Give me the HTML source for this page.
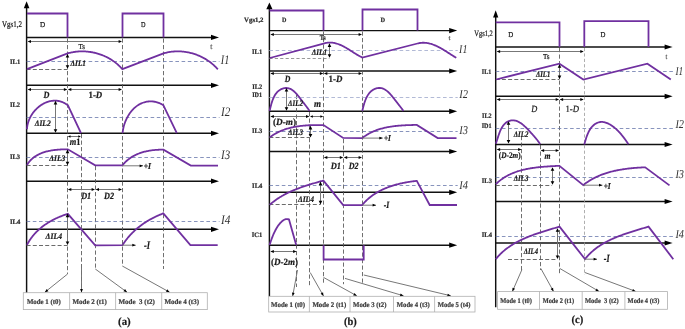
<!DOCTYPE html>
<html><head><meta charset="utf-8"><title>Waveforms</title>
<style>
html,body{margin:0;padding:0;background:#fff;}
body{width:685px;height:329px;overflow:hidden;}
svg{display:block;will-change:transform;}
text{text-rendering:geometricPrecision;font-family:"Liberation Serif",serif;fill:#1a1a1a;white-space:pre;stroke:#1a1a1a;stroke-width:0.22;}
.t{font-weight:normal;}
.tg{font-weight:normal;fill:#555;stroke:#555;}
.b{font-weight:bold;}
.md{font-weight:bold;fill:#3c3c3c;stroke:#3c3c3c;}
.lb{font-weight:bold;fill:#2a2a2a;stroke:#2a2a2a;}
.bi{font-weight:bold;font-style:italic;}
.li{font-style:italic;}
.lig{font-style:italic;fill:#333;stroke:none;}
.ax{stroke:#111;stroke-width:1.45;fill:none;}
.pw{stroke:#7030a0;stroke-width:1.8;fill:none;stroke-linejoin:miter;}
.vdl{stroke:#9a9a9a;stroke-width:0.8;stroke-dasharray:3.2 2.2;fill:none;}
.vd{stroke:#555555;stroke-width:0.85;stroke-dasharray:4.2 2.3;fill:none;}
.bd{stroke:#6a78ac;stroke-width:0.8;stroke-dasharray:3.6 2.6;fill:none;}
.bdb{stroke:#b2bad6;stroke-width:1.15;stroke-dasharray:3.6 2.6;fill:none;}
.gd{stroke:#5a5a5a;stroke-width:0.9;stroke-dasharray:4 2.2;fill:none;}
.gdb{stroke:#8c8c8c;stroke-width:0.9;stroke-dasharray:3.2 2.2;fill:none;}
.th{stroke:#707070;stroke-width:0.95;fill:none;}
.bx{stroke:#b0b0b0;stroke-width:0.8;fill:none;}
</style></head>
<body>
<svg width="685" height="329" viewBox="0 0 685 329">
<line x1="26.6" y1="7" x2="26.6" y2="292.7" class="ax"/>
<polygon points="26.60,1.20 29.40,8.20 23.80,8.20" fill="#000"/>
<line x1="26.6" y1="37.4" x2="214" y2="37.4" class="ax"/>
<polygon points="219.00,37.40 211.00,40.00 211.00,34.80" fill="#000"/>
<line x1="26.6" y1="85.3" x2="214" y2="85.3" class="ax"/>
<polygon points="219.00,85.30 211.00,87.90 211.00,82.70" fill="#000"/>
<line x1="26.6" y1="133.3" x2="214" y2="133.3" class="ax"/>
<polygon points="219.00,133.30 211.00,135.90 211.00,130.70" fill="#000"/>
<line x1="26.6" y1="181.2" x2="214" y2="181.2" class="ax"/>
<polygon points="219.00,181.20 211.00,183.80 211.00,178.60" fill="#000"/>
<line x1="26.6" y1="229.3" x2="214" y2="229.3" class="ax"/>
<polygon points="219.00,229.30 211.00,231.90 211.00,226.70" fill="#000"/>
<line x1="67.5" y1="38.5" x2="67.5" y2="274" class="vd"/>
<line x1="122.5" y1="38.5" x2="122.5" y2="266" class="vd"/>
<line x1="163.5" y1="38.5" x2="163.5" y2="269" class="vd"/>
<line x1="81.5" y1="134" x2="81.5" y2="291" class="vd"/>
<line x1="95.5" y1="166" x2="95.5" y2="269" class="vd"/>
<path d="M27,13.5 H67.5 V37.5" class="pw"/>
<path d="M122.5,37.5 V13.5 H163.5 V37.5" class="pw"/>
<text x="2" y="26.9" font-size="8.6" class="t" textLength="19.9" lengthAdjust="spacingAndGlyphs">Vgs1,2</text>
<text x="40.1" y="26.8" font-size="7.5" class="t" textLength="5.2" lengthAdjust="spacingAndGlyphs">D</text>
<text x="140.9" y="26.6" font-size="7.5" class="t" textLength="4.5" lengthAdjust="spacingAndGlyphs">D</text>
<line x1="28.6" y1="41.5" x2="121.0" y2="41.5" class="th"/>
<polygon points="27.60,41.50 31.00,40.00 31.00,43.00" fill="#000"/>
<polygon points="122.00,41.50 118.60,43.00 118.60,40.00" fill="#000"/>
<text x="78.5" y="49.2" font-size="7.5" class="t" textLength="6.4" lengthAdjust="spacingAndGlyphs">Ts</text>
<text x="210.2" y="48.6" font-size="8.2" class="tg" textLength="2.1" lengthAdjust="spacingAndGlyphs">t</text>
<line x1="26.6" y1="61.5" x2="219.5" y2="61.5" class="bd"/>
<line x1="26.6" y1="69.5" x2="67.6" y2="69.5" class="gd"/>
<path d="M27.00,69.20 L67.60,53.40 L68.39,53.18 L69.19,52.97 L69.99,52.77 L70.79,52.59 L71.60,52.42 L72.40,52.26 L73.21,52.12 L74.02,51.99 L74.84,51.87 L75.65,51.76 L76.47,51.67 L77.28,51.59 L78.10,51.52 L78.92,51.46 L79.74,51.42 L80.56,51.39 L81.38,51.37 L82.20,51.37 L83.02,51.37 L83.85,51.39 L84.67,51.43 L85.49,51.47 L86.31,51.53 L87.12,51.59 L87.94,51.67 L88.76,51.77 L89.57,51.87 L90.38,51.99 L91.19,52.12 L92.00,52.26 L92.81,52.41 L93.61,52.58 L94.42,52.75 L95.21,52.94 L96.01,53.14 L96.80,53.36 L97.59,53.58 L98.38,53.81 L99.16,54.06 L99.94,54.32 L100.72,54.59 L101.49,54.87 L102.25,55.17 L103.01,55.47 L103.77,55.79 L104.52,56.11 L105.27,56.45 L106.01,56.80 L106.75,57.16 L107.48,57.54 L108.20,57.92 L108.92,58.31 L109.63,58.72 L110.34,59.14 L111.04,59.56 L111.73,60.00 L112.42,60.45 L113.10,60.91 L113.77,61.38 L114.43,61.87 L115.09,62.36 L115.74,62.86 L116.38,63.38 L117.01,63.90 L117.63,64.44 L118.25,64.98 L118.85,65.54 L119.45,66.11 L120.04,66.69 L120.62,67.27 L121.19,67.87 L121.75,68.48 L122.30,69.10 L163.50,53.40 L164.29,53.17 L165.09,52.96 L165.89,52.76 L166.69,52.57 L167.49,52.40 L168.30,52.24 L169.11,52.09 L169.91,51.96 L170.72,51.84 L171.54,51.73 L172.35,51.64 L173.16,51.56 L173.98,51.49 L174.79,51.44 L175.60,51.40 L176.42,51.37 L177.24,51.35 L178.05,51.35 L178.87,51.36 L179.68,51.39 L180.49,51.42 L181.31,51.47 L182.12,51.53 L182.93,51.60 L183.74,51.69 L184.55,51.79 L185.36,51.90 L186.16,52.02 L186.97,52.16 L187.77,52.30 L188.56,52.46 L189.36,52.63 L190.15,52.82 L190.95,53.01 L191.73,53.22 L192.52,53.44 L193.30,53.67 L194.08,53.91 L194.85,54.16 L195.62,54.43 L196.39,54.70 L197.15,54.99 L197.91,55.29 L198.66,55.60 L199.41,55.92 L200.16,56.26 L200.89,56.60 L201.63,56.96 L202.36,57.33 L203.08,57.70 L203.80,58.09 L204.51,58.49 L205.21,58.90 L205.91,59.32 L206.61,59.76 L207.29,60.20 L207.97,60.65 L208.65,61.12 L209.31,61.59 L209.97,62.07 L210.62,62.57 L211.27,63.07 L211.90,63.59 L212.53,64.12 L213.15,64.65 L213.76,65.20 L214.36,65.75 L214.96,66.32 L215.55,66.90 L216.12,67.48 L216.69,68.08 L217.25,68.68 L217.80,69.30 " class="pw"/>
<line x1="67.5" y1="54.9" x2="67.5" y2="67.8" class="th"/>
<polygon points="67.50,53.90 69.30,57.50 65.70,57.50" fill="#000"/>
<polygon points="67.50,68.80 65.70,65.20 69.30,65.20" fill="#000"/>
<text x="10" y="63.8" font-size="6.8" class="lb" textLength="10.2" lengthAdjust="spacingAndGlyphs">IL1</text>
<text x="70.6" y="66.2" font-size="8.5" class="bi" textLength="15.3" lengthAdjust="spacingAndGlyphs">&#916;IL1</text>
<text x="220.8" y="63.6" font-size="13" class="lig" textLength="8.6" lengthAdjust="spacingAndGlyphs">I1</text>
<line x1="28.6" y1="89.5" x2="66.3" y2="89.5" class="th"/>
<polygon points="27.60,89.50 31.00,88.00 31.00,91.00" fill="#000"/>
<polygon points="67.30,89.50 63.90,91.00 63.90,88.00" fill="#000"/>
<line x1="68.89999999999999" y1="89.5" x2="121.0" y2="89.5" class="th"/>
<polygon points="67.90,89.50 71.30,88.00 71.30,91.00" fill="#000"/>
<polygon points="122.00,89.50 118.60,91.00 118.60,88.00" fill="#000"/>
<text x="43.4" y="98.1" font-size="9.5" class="bi" textLength="5.9" lengthAdjust="spacingAndGlyphs">D</text>
<text x="88.5" y="98.1" font-size="9.5" class="b" textLength="13.7" lengthAdjust="spacingAndGlyphs">1-<tspan font-style='italic'>D</tspan></text>
<line x1="26.6" y1="117.5" x2="219.5" y2="117.5" class="bd"/>
<path d="M27.00,129.20 L27.04,128.38 L27.11,127.56 L27.21,126.75 L27.33,125.94 L27.47,125.13 L27.65,124.32 L27.84,123.52 L28.06,122.73 L28.30,121.94 L28.57,121.15 L28.85,120.38 L29.16,119.61 L29.49,118.84 L29.84,118.09 L30.22,117.34 L30.61,116.61 L31.02,115.88 L31.45,115.16 L31.90,114.46 L32.36,113.76 L32.85,113.08 L33.35,112.41 L33.86,111.75 L34.40,111.10 L34.95,110.47 L35.51,109.86 L36.09,109.26 L36.68,108.67 L37.28,108.10 L37.90,107.55 L38.53,107.01 L39.18,106.50 L39.83,106.00 L40.50,105.52 L41.18,105.05 L41.86,104.61 L42.56,104.19 L43.27,103.79 L43.98,103.41 L44.70,103.06 L45.43,102.72 L46.17,102.41 L46.92,102.12 L47.67,101.86 L48.42,101.62 L49.19,101.40 L49.95,101.22 L50.72,101.05 L51.50,100.92 L52.28,100.81 L53.06,100.73 L53.84,100.68 L54.63,100.66 L55.41,100.66 L56.20,100.70 L56.99,100.77 L57.78,100.86 L58.57,100.99 L59.35,101.15 L60.14,101.35 L60.92,101.58 L61.70,101.84 L62.48,102.13 L63.25,102.46 L64.02,102.83 L64.79,103.23 L65.55,103.67 L66.31,104.14 L67.06,104.65 L67.80,105.20 L81.00,133.10 " class="pw"/>
<path d="M122.60,133.00 L122.68,132.21 L122.77,131.42 L122.88,130.63 L123.01,129.83 L123.15,129.04 L123.31,128.24 L123.49,127.44 L123.69,126.64 L123.90,125.84 L124.13,125.05 L124.38,124.26 L124.64,123.47 L124.92,122.68 L125.21,121.90 L125.52,121.12 L125.85,120.35 L126.19,119.58 L126.54,118.83 L126.91,118.08 L127.30,117.33 L127.70,116.60 L128.12,115.87 L128.55,115.16 L129.00,114.46 L129.46,113.76 L129.93,113.09 L130.42,112.42 L130.92,111.76 L131.44,111.12 L131.97,110.50 L132.51,109.89 L133.07,109.30 L133.64,108.72 L134.22,108.16 L134.82,107.62 L135.42,107.09 L136.05,106.59 L136.68,106.10 L137.33,105.64 L137.98,105.20 L138.65,104.78 L139.34,104.38 L140.03,104.00 L140.74,103.65 L141.45,103.32 L142.18,103.02 L142.91,102.74 L143.66,102.49 L144.41,102.26 L145.18,102.06 L145.94,101.88 L146.72,101.73 L147.50,101.61 L148.29,101.51 L149.08,101.44 L149.87,101.40 L150.67,101.38 L151.47,101.40 L152.27,101.44 L153.07,101.51 L153.87,101.61 L154.68,101.74 L155.48,101.90 L156.28,102.09 L157.08,102.31 L157.87,102.56 L158.66,102.84 L159.45,103.16 L160.23,103.50 L161.01,103.88 L161.78,104.29 L162.54,104.73 L163.30,105.20 L176.80,133.10 " class="pw"/>
<line x1="55.5" y1="101.8" x2="55.5" y2="131.8" class="th"/>
<polygon points="55.50,100.80 57.30,104.40 53.70,104.40" fill="#000"/>
<polygon points="55.50,132.80 53.70,129.20 57.30,129.20" fill="#000"/>
<text x="10" y="106.7" font-size="6.8" class="lb" textLength="10.1" lengthAdjust="spacingAndGlyphs">IL2</text>
<text x="34.7" y="126.3" font-size="8.5" class="bi" textLength="16.0" lengthAdjust="spacingAndGlyphs">&#916;IL2</text>
<text x="221" y="116.0" font-size="13" class="lig" textLength="9.3" lengthAdjust="spacingAndGlyphs">I2</text>
<line x1="68.89999999999999" y1="136.5" x2="79.9" y2="136.5" class="th"/>
<polygon points="67.90,136.50 70.50,135.30 70.50,137.70" fill="#000"/>
<polygon points="80.90,136.50 78.30,137.70 78.30,135.30" fill="#000"/>
<text x="69.8" y="145.4" font-size="10" class="bi" textLength="10.7" lengthAdjust="spacingAndGlyphs">m<tspan font-style='normal'>1</tspan></text>
<line x1="26.6" y1="157.5" x2="219.5" y2="157.5" class="bd"/>
<line x1="26.6" y1="165.5" x2="67.6" y2="165.5" class="gd"/>
<path d="M27.00,164.90 L27.46,164.17 L27.94,163.46 L28.43,162.77 L28.94,162.11 L29.47,161.47 L30.02,160.84 L30.57,160.25 L31.15,159.67 L31.74,159.11 L32.34,158.57 L32.95,158.05 L33.58,157.55 L34.22,157.07 L34.87,156.61 L35.54,156.17 L36.22,155.75 L36.90,155.34 L37.60,154.95 L38.31,154.58 L39.03,154.22 L39.76,153.88 L40.49,153.55 L41.24,153.25 L41.99,152.95 L42.75,152.67 L43.52,152.41 L44.29,152.16 L45.07,151.92 L45.86,151.69 L46.65,151.48 L47.45,151.28 L48.25,151.10 L49.06,150.92 L49.87,150.76 L50.68,150.60 L51.50,150.46 L52.32,150.33 L53.14,150.21 L53.96,150.10 L54.79,149.99 L55.61,149.90 L56.44,149.81 L57.26,149.74 L58.09,149.67 L58.91,149.60 L59.73,149.55 L60.56,149.50 L61.37,149.46 L62.19,149.42 L63.00,149.39 L63.81,149.36 L64.62,149.34 L65.42,149.33 L66.22,149.31 L67.01,149.31 L67.80,149.30 L95.20,165.40 L122.40,165.40 L122.94,164.72 L123.49,164.06 L124.06,163.42 L124.64,162.79 L125.23,162.19 L125.83,161.60 L126.44,161.03 L127.06,160.48 L127.69,159.94 L128.33,159.42 L128.99,158.91 L129.65,158.43 L130.32,157.96 L131.00,157.50 L131.69,157.06 L132.39,156.64 L133.10,156.23 L133.81,155.83 L134.53,155.45 L135.26,155.09 L136.00,154.74 L136.74,154.40 L137.49,154.07 L138.25,153.76 L139.01,153.47 L139.78,153.18 L140.56,152.91 L141.34,152.65 L142.13,152.41 L142.92,152.18 L143.71,151.95 L144.51,151.74 L145.32,151.54 L146.12,151.36 L146.93,151.18 L147.75,151.01 L148.57,150.86 L149.39,150.71 L150.21,150.58 L151.03,150.45 L151.86,150.34 L152.69,150.23 L153.52,150.14 L154.35,150.05 L155.18,149.97 L156.02,149.90 L156.85,149.83 L157.68,149.78 L158.52,149.73 L159.35,149.69 L160.18,149.66 L161.01,149.64 L161.84,149.62 L162.67,149.61 L163.50,149.60 L190.80,165.60 L218.00,165.60 " class="pw"/>
<line x1="67.5" y1="150.6" x2="67.5" y2="164.3" class="th"/>
<polygon points="67.50,149.60 69.30,153.20 65.70,153.20" fill="#000"/>
<polygon points="67.50,165.30 65.70,161.70 69.30,161.70" fill="#000"/>
<text x="10" y="158.9" font-size="6.8" class="lb" textLength="10.1" lengthAdjust="spacingAndGlyphs">IL3</text>
<text x="49.3" y="161.3" font-size="8.5" class="bi" textLength="16.0" lengthAdjust="spacingAndGlyphs">&#916;IL3</text>
<text x="221" y="158.8" font-size="13" class="lig" textLength="9.1" lengthAdjust="spacingAndGlyphs">I3</text>
<line x1="122.3" y1="165.8" x2="143" y2="165.8" class="th"/>
<polygon points="143.00,165.80 139.60,167.20 139.60,164.40" fill="#000"/>
<text x="143.7" y="169.4" font-size="9" class="bi" textLength="7.3" lengthAdjust="spacingAndGlyphs">+I</text>
<line x1="68.89999999999999" y1="189.5" x2="94.0" y2="189.5" class="th"/>
<polygon points="67.90,189.50 71.30,188.00 71.30,191.00" fill="#000"/>
<polygon points="95.00,189.50 91.60,191.00 91.60,188.00" fill="#000"/>
<line x1="96.6" y1="189.5" x2="121.0" y2="189.5" class="th"/>
<polygon points="95.60,189.50 99.00,188.00 99.00,191.00" fill="#000"/>
<polygon points="122.00,189.50 118.60,191.00 118.60,188.00" fill="#000"/>
<text x="81.2" y="198.6" font-size="9.5" class="bi" textLength="10.0" lengthAdjust="spacingAndGlyphs">D1</text>
<text x="104" y="198.6" font-size="9.5" class="bi" textLength="10.0" lengthAdjust="spacingAndGlyphs">D2</text>
<line x1="26.6" y1="221.5" x2="219.5" y2="221.5" class="bd"/>
<line x1="26.6" y1="245.5" x2="67.6" y2="245.5" class="gd"/>
<path d="M27.00,244.90 L27.39,244.16 L27.79,243.42 L28.20,242.69 L28.62,241.98 L29.06,241.27 L29.50,240.57 L29.95,239.87 L30.42,239.19 L30.89,238.52 L31.37,237.85 L31.87,237.19 L32.37,236.54 L32.88,235.90 L33.41,235.27 L33.94,234.65 L34.48,234.03 L35.02,233.43 L35.58,232.83 L36.15,232.24 L36.72,231.66 L37.30,231.09 L37.89,230.52 L38.49,229.96 L39.10,229.42 L39.71,228.88 L40.33,228.34 L40.96,227.82 L41.59,227.30 L42.23,226.80 L42.88,226.30 L43.54,225.81 L44.20,225.32 L44.87,224.85 L45.54,224.38 L46.22,223.92 L46.90,223.47 L47.60,223.02 L48.29,222.59 L48.99,222.16 L49.70,221.74 L50.41,221.32 L51.13,220.92 L51.85,220.52 L52.58,220.13 L53.31,219.75 L54.04,219.37 L54.78,219.01 L55.52,218.65 L56.27,218.30 L57.02,217.95 L57.77,217.61 L58.53,217.28 L59.29,216.96 L60.05,216.65 L60.81,216.34 L61.58,216.04 L62.35,215.75 L63.12,215.46 L63.90,215.18 L64.68,214.91 L65.45,214.65 L66.24,214.39 L67.02,214.14 L67.80,213.90 L95.20,245.30 L122.50,245.20 L122.94,244.49 L123.40,243.79 L123.86,243.10 L124.32,242.41 L124.80,241.74 L125.28,241.06 L125.77,240.40 L126.27,239.74 L126.78,239.09 L127.29,238.44 L127.81,237.80 L128.34,237.17 L128.87,236.55 L129.42,235.93 L129.96,235.32 L130.52,234.71 L131.08,234.12 L131.65,233.52 L132.22,232.94 L132.81,232.36 L133.39,231.79 L133.99,231.23 L134.59,230.67 L135.19,230.12 L135.80,229.57 L136.42,229.03 L137.05,228.50 L137.67,227.98 L138.31,227.46 L138.95,226.95 L139.59,226.44 L140.25,225.95 L140.90,225.45 L141.56,224.97 L142.23,224.49 L142.90,224.02 L143.58,223.55 L144.26,223.09 L144.94,222.64 L145.63,222.19 L146.32,221.75 L147.02,221.32 L147.73,220.89 L148.43,220.47 L149.14,220.06 L149.86,219.65 L150.58,219.25 L151.30,218.86 L152.03,218.47 L152.76,218.09 L153.49,217.71 L154.23,217.34 L154.97,216.98 L155.71,216.62 L156.46,216.27 L157.20,215.93 L157.96,215.59 L158.71,215.26 L159.47,214.93 L160.23,214.61 L161.00,214.30 L161.76,213.99 L162.53,213.69 L163.30,213.40 L190.40,245.20 L217.70,245.20 " class="pw"/>
<line x1="67.5" y1="214.6" x2="67.5" y2="244" class="th"/>
<polygon points="67.50,213.60 69.30,217.20 65.70,217.20" fill="#000"/>
<polygon points="67.50,245.00 65.70,241.40 69.30,241.40" fill="#000"/>
<text x="10" y="223.8" font-size="6.8" class="lb" textLength="10.3" lengthAdjust="spacingAndGlyphs">IL4</text>
<text x="45.6" y="239.2" font-size="8.5" class="bi" textLength="16.4" lengthAdjust="spacingAndGlyphs">&#916;IL4</text>
<text x="221" y="224.3" font-size="13" class="lig" textLength="9.4" lengthAdjust="spacingAndGlyphs">I4</text>
<line x1="122.3" y1="245.2" x2="135.7" y2="245.2" class="th"/>
<polygon points="135.70,245.20 132.30,246.60 132.30,243.80" fill="#000"/>
<text x="144" y="248.8" font-size="11.5" class="bi" textLength="6.0" lengthAdjust="spacingAndGlyphs">-I</text>
<line x1="67.6" y1="274" x2="44.9" y2="292.2" class="th"/>
<polygon points="44.90,292.20 46.68,288.98 48.43,291.17" fill="#000"/>
<line x1="81.5" y1="268" x2="81.5" y2="292.4" class="th"/>
<polygon points="81.50,292.40 80.10,289.00 82.90,289.00" fill="#000"/>
<line x1="95.3" y1="269" x2="127" y2="292.2" class="th"/>
<polygon points="127.00,292.20 123.43,291.32 125.08,289.06" fill="#000"/>
<line x1="122.3" y1="266" x2="169.6" y2="292.2" class="th"/>
<polygon points="169.60,292.20 165.95,291.78 167.30,289.33" fill="#000"/>
<rect x="23.3" y="292.7" width="184.0" height="16.900000000000034" class="bx"/>
<line x1="69.6" y1="292.7" x2="69.6" y2="309.6" class="bx"/>
<line x1="115.6" y1="292.7" x2="115.6" y2="309.6" class="bx"/>
<line x1="161.7" y1="292.7" x2="161.7" y2="309.6" class="bx"/>
<text x="26.9" y="303.6" font-size="7.2" class="md" textLength="33.8" lengthAdjust="spacingAndGlyphs">Mode 1 (t0)</text>
<text x="72.5" y="303.6" font-size="7.2" class="md" textLength="34.3" lengthAdjust="spacingAndGlyphs">Mode 2 (t1)</text>
<text x="118.5" y="303.6" font-size="7.2" class="md" textLength="36.3" lengthAdjust="spacingAndGlyphs">Mode  3 (t2)</text>
<text x="164.4" y="303.6" font-size="7.2" class="md" textLength="34.6" lengthAdjust="spacingAndGlyphs">Mode 4 (t3)</text>
<text x="118" y="325.2" font-size="11" class="b" textLength="12.7" lengthAdjust="spacingAndGlyphs">(a)</text>
<line x1="269.4" y1="8" x2="269.4" y2="296.3" class="ax"/>
<polygon points="269.40,2.60 272.50,9.20 266.30,9.20" fill="#000"/>
<line x1="269.4" y1="30.6" x2="452.2" y2="30.6" class="ax"/>
<polygon points="457.20,30.60 449.20,33.20 449.20,28.00" fill="#000"/>
<line x1="269.4" y1="71.0" x2="452.2" y2="71.0" class="ax"/>
<polygon points="457.20,71.00 449.20,73.60 449.20,68.40" fill="#000"/>
<line x1="269.4" y1="111.3" x2="452.2" y2="111.3" class="ax"/>
<polygon points="457.20,111.30 449.20,113.90 449.20,108.70" fill="#000"/>
<line x1="269.4" y1="151.5" x2="452.2" y2="151.5" class="ax"/>
<polygon points="457.20,151.50 449.20,154.10 449.20,148.90" fill="#000"/>
<line x1="269.4" y1="192.3" x2="452.2" y2="192.3" class="ax"/>
<polygon points="457.20,192.30 449.20,194.90 449.20,189.70" fill="#000"/>
<line x1="269.4" y1="245.2" x2="452.2" y2="245.2" class="ax"/>
<polygon points="457.20,245.20 449.20,247.80 449.20,242.60" fill="#000"/>
<line x1="323.5" y1="31.5" x2="323.5" y2="283.5" class="vd"/>
<line x1="362.5" y1="31.5" x2="362.5" y2="283" class="vd"/>
<line x1="296.5" y1="95" x2="296.5" y2="287" class="vd"/>
<line x1="309.5" y1="112" x2="309.5" y2="285.7" class="vd"/>
<line x1="343.5" y1="139" x2="343.5" y2="284.2" class="vd"/>
<path d="M269.5,10.5 H323.5 V30.5" class="pw"/>
<path d="M362.5,30.5 V9.5 H417.5 V30.5" class="pw"/>
<text x="244.1" y="22.0" font-size="6.6" class="lb" textLength="19.4" lengthAdjust="spacingAndGlyphs">Vgs1,2</text>
<text x="281.9" y="21.9" font-size="6.6" class="lb" textLength="4.4" lengthAdjust="spacingAndGlyphs">D</text>
<text x="380.4" y="22.2" font-size="6.6" class="lb" textLength="4.6" lengthAdjust="spacingAndGlyphs">D</text>
<line x1="271.4" y1="34.5" x2="361.0" y2="34.5" class="th"/>
<polygon points="270.40,34.50 273.80,33.00 273.80,36.00" fill="#000"/>
<polygon points="362.00,34.50 358.60,36.00 358.60,33.00" fill="#000"/>
<text x="319.8" y="40.0" font-size="7.2" class="lb" textLength="6.0" lengthAdjust="spacingAndGlyphs">Ts</text>
<text x="448.5" y="40.0" font-size="6.8" class="tg" textLength="2.0" lengthAdjust="spacingAndGlyphs">t</text>
<line x1="269.4" y1="50.5" x2="457.7" y2="50.5" class="bdb"/>
<line x1="269.4" y1="58.5" x2="329.4" y2="58.5" class="gdb"/>
<path d="M269.80,58.00 L323.50,43.60 L324.36,43.34 L325.20,43.13 L326.04,42.95 L326.88,42.80 L327.71,42.70 L328.53,42.62 L329.34,42.58 L330.15,42.57 L330.96,42.59 L331.75,42.64 L332.54,42.72 L333.33,42.83 L334.11,42.96 L334.89,43.12 L335.66,43.31 L336.43,43.51 L337.19,43.74 L337.94,43.99 L338.70,44.26 L339.45,44.55 L340.19,44.86 L340.93,45.19 L341.67,45.53 L342.41,45.88 L343.14,46.25 L343.87,46.63 L344.59,47.03 L345.31,47.43 L346.03,47.84 L346.75,48.26 L347.47,48.69 L348.18,49.13 L348.89,49.57 L349.60,50.01 L350.31,50.46 L351.02,50.91 L351.73,51.36 L352.43,51.81 L353.14,52.26 L353.84,52.71 L354.54,53.15 L355.25,53.59 L355.95,54.02 L356.65,54.45 L357.36,54.87 L358.06,55.28 L358.76,55.68 L359.47,56.07 L360.18,56.45 L360.88,56.81 L361.59,57.16 L362.30,57.50 L417.50,43.50 L418.34,43.30 L419.17,43.13 L420.00,42.99 L420.82,42.89 L421.64,42.82 L422.46,42.77 L423.27,42.75 L424.08,42.77 L424.88,42.80 L425.68,42.87 L426.48,42.96 L427.27,43.07 L428.06,43.21 L428.84,43.37 L429.63,43.55 L430.40,43.75 L431.18,43.98 L431.95,44.22 L432.72,44.48 L433.48,44.76 L434.24,45.05 L435.00,45.36 L435.75,45.69 L436.51,46.03 L437.25,46.38 L438.00,46.74 L438.74,47.12 L439.47,47.51 L440.21,47.91 L440.94,48.31 L441.67,48.73 L442.39,49.15 L443.12,49.58 L443.83,50.01 L444.55,50.45 L445.26,50.89 L445.97,51.34 L446.68,51.78 L447.39,52.23 L448.09,52.68 L448.79,53.13 L449.48,53.58 L450.18,54.02 L450.87,54.47 L451.55,54.91 L452.24,55.34 L452.92,55.77 L453.60,56.19 L454.28,56.61 L454.96,57.01 L455.63,57.41 L456.30,57.80 " class="pw"/>
<line x1="329.5" y1="44.3" x2="329.5" y2="56.8" class="th"/>
<polygon points="329.50,43.30 331.30,46.90 327.70,46.90" fill="#000"/>
<polygon points="329.50,57.80 327.70,54.20 331.30,54.20" fill="#000"/>
<text x="252.1" y="53.7" font-size="6.8" class="lb" textLength="10.0" lengthAdjust="spacingAndGlyphs">IL1</text>
<text x="311.7" y="55.0" font-size="8.5" class="bi" textLength="15.3" lengthAdjust="spacingAndGlyphs">&#916;IL1</text>
<text x="459.1" y="52.9" font-size="12" class="lig" textLength="8.3" lengthAdjust="spacingAndGlyphs">I1</text>
<line x1="271.4" y1="73.5" x2="322.3" y2="73.5" class="th"/>
<polygon points="270.40,73.50 273.80,72.00 273.80,75.00" fill="#000"/>
<polygon points="323.30,73.50 319.90,75.00 319.90,72.00" fill="#000"/>
<line x1="324.90000000000003" y1="73.5" x2="361.0" y2="73.5" class="th"/>
<polygon points="323.90,73.50 327.30,72.00 327.30,75.00" fill="#000"/>
<polygon points="362.00,73.50 358.60,75.00 358.60,72.00" fill="#000"/>
<text x="284.8" y="82.2" font-size="9.5" class="bi" textLength="5.6" lengthAdjust="spacingAndGlyphs">D</text>
<text x="328.5" y="82.2" font-size="9.5" class="b" textLength="13.8" lengthAdjust="spacingAndGlyphs">1-<tspan font-style='italic'>D</tspan></text>
<line x1="269.4" y1="97.5" x2="457.7" y2="97.5" class="bdb"/>
<path d="M269.60,110.90 L269.77,110.23 L269.94,109.54 L270.11,108.82 L270.29,108.08 L270.48,107.32 L270.68,106.54 L270.88,105.75 L271.10,104.94 L271.32,104.13 L271.56,103.30 L271.81,102.48 L272.08,101.65 L272.36,100.83 L272.66,100.00 L272.97,99.19 L273.31,98.38 L273.66,97.59 L274.04,96.81 L274.44,96.05 L274.86,95.30 L275.30,94.58 L275.77,93.89 L276.27,93.22 L276.79,92.58 L277.35,91.98 L277.93,91.41 L278.54,90.88 L279.18,90.39 L279.85,89.94 L280.54,89.53 L281.24,89.17 L281.97,88.85 L282.70,88.58 L283.45,88.36 L284.20,88.19 L284.96,88.07 L285.72,88.00 L286.48,87.99 L287.23,88.03 L287.98,88.13 L288.72,88.29 L289.44,88.52 L290.15,88.79 L290.85,89.13 L291.53,89.51 L292.20,89.94 L292.86,90.41 L293.51,90.92 L294.14,91.47 L294.76,92.05 L295.37,92.65 L295.97,93.28 L296.56,93.93 L297.14,94.60 L297.70,95.27 L298.26,95.96 L298.81,96.65 L299.34,97.34 L299.87,98.03 L300.39,98.71 L300.90,99.38 L301.40,100.04 L301.89,100.68 L302.37,101.31 L302.85,101.93 L303.33,102.54 L303.80,103.15 L304.27,103.76 L304.73,104.36 L305.20,104.96 L305.67,105.57 L306.14,106.19 L306.62,106.82 L307.09,107.46 L307.58,108.11 L308.07,108.77 L308.57,109.46 L309.08,110.17 L309.60,110.90 " class="pw"/>
<path d="M362.30,110.90 L362.46,110.23 L362.62,109.54 L362.80,108.82 L362.98,108.08 L363.17,107.32 L363.37,106.54 L363.58,105.75 L363.80,104.95 L364.03,104.14 L364.28,103.32 L364.54,102.49 L364.82,101.67 L365.12,100.85 L365.43,100.03 L365.76,99.22 L366.10,98.41 L366.47,97.62 L366.86,96.85 L367.27,96.09 L367.70,95.35 L368.16,94.63 L368.64,93.94 L369.14,93.27 L369.67,92.64 L370.23,92.04 L370.82,91.47 L371.43,90.94 L372.08,90.45 L372.74,90.00 L373.43,89.60 L374.13,89.23 L374.86,88.91 L375.59,88.64 L376.34,88.41 L377.09,88.23 L377.85,88.10 L378.61,88.02 L379.37,87.99 L380.13,88.02 L380.88,88.10 L381.63,88.23 L382.36,88.42 L383.08,88.67 L383.79,88.96 L384.49,89.31 L385.17,89.70 L385.85,90.14 L386.51,90.62 L387.16,91.13 L387.80,91.67 L388.42,92.24 L389.04,92.84 L389.64,93.46 L390.24,94.10 L390.82,94.75 L391.40,95.42 L391.96,96.09 L392.52,96.77 L393.06,97.45 L393.60,98.13 L394.12,98.80 L394.64,99.47 L395.15,100.12 L395.65,100.76 L396.14,101.39 L396.63,102.02 L397.11,102.63 L397.59,103.25 L398.07,103.86 L398.54,104.47 L399.02,105.08 L399.50,105.69 L399.98,106.31 L400.46,106.93 L400.95,107.56 L401.44,108.20 L401.94,108.85 L402.45,109.52 L402.97,110.20 L403.50,110.90 " class="pw"/>
<line x1="286.5" y1="89" x2="286.5" y2="109.8" class="th"/>
<polygon points="286.50,88.00 288.30,91.60 284.70,91.60" fill="#000"/>
<polygon points="286.50,110.80 284.70,107.20 288.30,107.20" fill="#000"/>
<text x="252.2" y="88.8" font-size="6.8" class="lb" textLength="9.9" lengthAdjust="spacingAndGlyphs">IL2</text>
<text x="252.2" y="96.7" font-size="6.8" class="lb" textLength="9.9" lengthAdjust="spacingAndGlyphs">ID1</text>
<text x="288" y="106" font-size="8.5" class="bi" textLength="15.0" lengthAdjust="spacingAndGlyphs">&#916;IL2</text>
<text x="314" y="107.0" font-size="10" class="bi" textLength="7.0" lengthAdjust="spacingAndGlyphs">m</text>
<text x="459.3" y="97.8" font-size="12" class="lig" textLength="8.7" lengthAdjust="spacingAndGlyphs">I2</text>
<line x1="271.4" y1="116.5" x2="308.4" y2="116.5" class="th"/>
<polygon points="270.40,116.50 273.80,115.00 273.80,118.00" fill="#000"/>
<polygon points="309.40,116.50 306.00,118.00 306.00,115.00" fill="#000"/>
<line x1="311.0" y1="116.5" x2="322.2" y2="116.5" class="th"/>
<polygon points="310.00,116.50 312.80,115.20 312.80,117.80" fill="#000"/>
<polygon points="323.20,116.50 320.40,117.80 320.40,115.20" fill="#000"/>
<text x="272.9" y="124.6" font-size="9.5" class="b" textLength="23.1" lengthAdjust="spacingAndGlyphs">(<tspan font-style='italic'>D</tspan>-<tspan font-style='italic'>m</tspan>)</text>
<line x1="269.4" y1="131.5" x2="457.7" y2="131.5" class="bd"/>
<line x1="269.4" y1="137.5" x2="310" y2="137.5" class="gd"/>
<path d="M269.70,137.40 L270.36,136.90 L271.03,136.41 L271.71,135.94 L272.39,135.48 L273.08,135.03 L273.77,134.60 L274.47,134.18 L275.18,133.77 L275.89,133.37 L276.60,132.98 L277.32,132.61 L278.05,132.25 L278.78,131.89 L279.51,131.55 L280.25,131.22 L281.00,130.91 L281.75,130.60 L282.50,130.30 L283.25,130.01 L284.02,129.74 L284.78,129.47 L285.55,129.21 L286.32,128.96 L287.09,128.73 L287.87,128.50 L288.66,128.28 L289.44,128.07 L290.23,127.87 L291.02,127.67 L291.81,127.49 L292.61,127.31 L293.41,127.14 L294.21,126.98 L295.01,126.83 L295.81,126.69 L296.62,126.55 L297.43,126.42 L298.24,126.30 L299.05,126.18 L299.87,126.07 L300.68,125.97 L301.50,125.87 L302.31,125.79 L303.13,125.70 L303.95,125.62 L304.77,125.55 L305.59,125.49 L306.41,125.42 L307.23,125.37 L308.05,125.32 L308.87,125.27 L309.69,125.23 L310.51,125.20 L311.33,125.16 L312.15,125.14 L312.97,125.11 L313.79,125.09 L314.60,125.08 L315.42,125.06 L316.24,125.06 L317.05,125.05 L317.86,125.05 L318.67,125.05 L319.48,125.05 L320.29,125.06 L321.10,125.06 L321.90,125.07 L322.70,125.09 L323.50,125.10 L343.20,137.90 L362.20,138.10 L362.85,137.59 L363.51,137.08 L364.18,136.60 L364.85,136.12 L365.53,135.66 L366.22,135.22 L366.91,134.78 L367.61,134.36 L368.32,133.95 L369.03,133.56 L369.74,133.17 L370.46,132.80 L371.19,132.44 L371.92,132.09 L372.66,131.75 L373.40,131.42 L374.15,131.11 L374.90,130.80 L375.65,130.51 L376.41,130.22 L377.18,129.95 L377.95,129.68 L378.72,129.43 L379.50,129.19 L380.28,128.95 L381.06,128.72 L381.85,128.51 L382.64,128.30 L383.43,128.10 L384.22,127.91 L385.02,127.72 L385.82,127.55 L386.63,127.38 L387.43,127.22 L388.24,127.07 L389.05,126.92 L389.87,126.78 L390.68,126.65 L391.49,126.53 L392.31,126.41 L393.13,126.30 L393.95,126.19 L394.77,126.09 L395.59,126.00 L396.41,125.91 L397.24,125.83 L398.06,125.75 L398.88,125.67 L399.71,125.61 L400.53,125.54 L401.36,125.48 L402.18,125.43 L403.00,125.37 L403.83,125.33 L404.65,125.28 L405.47,125.24 L406.29,125.20 L407.11,125.17 L407.93,125.13 L408.74,125.10 L409.56,125.08 L410.37,125.05 L411.18,125.03 L411.99,125.00 L412.80,124.98 L413.60,124.97 L414.41,124.95 L415.21,124.93 L416.01,124.92 L416.80,124.90 L437.70,138.10 L456.50,138.10 " class="pw"/>
<line x1="310.5" y1="126.8" x2="310.5" y2="136.6" class="th"/>
<polygon points="310.50,125.80 312.30,129.40 308.70,129.40" fill="#000"/>
<polygon points="310.50,137.60 308.70,134.00 312.30,134.00" fill="#000"/>
<text x="252.1" y="132.7" font-size="6.8" class="lb" textLength="10.1" lengthAdjust="spacingAndGlyphs">IL3</text>
<text x="288" y="135.4" font-size="8.5" class="bi" textLength="15.0" lengthAdjust="spacingAndGlyphs">&#916;IL3</text>
<text x="459.3" y="133.6" font-size="12" class="lig" textLength="8.7" lengthAdjust="spacingAndGlyphs">I3</text>
<line x1="362.3" y1="138.1" x2="382.7" y2="138.1" class="th"/>
<polygon points="382.70,138.10 379.30,139.50 379.30,136.70" fill="#000"/>
<text x="383.9" y="141.4" font-size="9" class="bi" textLength="6.8" lengthAdjust="spacingAndGlyphs">+I</text>
<line x1="324.90000000000003" y1="157.5" x2="342.2" y2="157.5" class="th"/>
<polygon points="323.90,157.50 327.30,156.00 327.30,159.00" fill="#000"/>
<polygon points="343.20,157.50 339.80,159.00 339.80,156.00" fill="#000"/>
<line x1="344.8" y1="157.5" x2="361.0" y2="157.5" class="th"/>
<polygon points="343.80,157.50 347.20,156.00 347.20,159.00" fill="#000"/>
<polygon points="362.00,157.50 358.60,159.00 358.60,156.00" fill="#000"/>
<text x="330.7" y="168.6" font-size="9.5" class="bi" textLength="10.3" lengthAdjust="spacingAndGlyphs">D1</text>
<text x="348.8" y="168.6" font-size="9.5" class="bi" textLength="9.8" lengthAdjust="spacingAndGlyphs">D2</text>
<line x1="269.4" y1="185.5" x2="457.7" y2="185.5" class="bd"/>
<line x1="269.4" y1="204.5" x2="320.7" y2="204.5" class="gd"/>
<path d="M269.70,204.80 L270.32,204.26 L270.94,203.72 L271.57,203.20 L272.20,202.68 L272.84,202.17 L273.48,201.67 L274.13,201.18 L274.78,200.69 L275.44,200.21 L276.10,199.74 L276.77,199.28 L277.44,198.82 L278.12,198.38 L278.80,197.93 L279.49,197.50 L280.17,197.07 L280.87,196.65 L281.57,196.24 L282.27,195.83 L282.97,195.43 L283.68,195.04 L284.39,194.65 L285.11,194.27 L285.83,193.89 L286.55,193.52 L287.28,193.16 L288.01,192.80 L288.74,192.45 L289.48,192.10 L290.21,191.76 L290.95,191.42 L291.70,191.09 L292.45,190.77 L293.19,190.44 L293.95,190.13 L294.70,189.82 L295.46,189.51 L296.21,189.21 L296.97,188.91 L297.74,188.61 L298.50,188.32 L299.27,188.04 L300.03,187.76 L300.80,187.48 L301.57,187.21 L302.35,186.93 L303.12,186.67 L303.89,186.40 L304.67,186.14 L305.45,185.89 L306.23,185.63 L307.00,185.38 L307.78,185.13 L308.56,184.89 L309.35,184.65 L310.13,184.41 L310.91,184.17 L311.69,183.93 L312.47,183.70 L313.26,183.47 L314.04,183.24 L314.82,183.01 L315.60,182.78 L316.39,182.56 L317.17,182.34 L317.95,182.12 L318.73,181.90 L319.51,181.68 L320.29,181.46 L321.07,181.24 L321.85,181.03 L322.62,180.81 L323.40,180.60 L343.20,205.10 L362.20,205.00 L362.73,204.36 L363.28,203.73 L363.83,203.11 L364.39,202.51 L364.96,201.91 L365.53,201.32 L366.11,200.75 L366.71,200.18 L367.31,199.63 L367.91,199.08 L368.53,198.55 L369.15,198.02 L369.78,197.51 L370.41,197.00 L371.05,196.50 L371.70,196.02 L372.36,195.54 L373.02,195.07 L373.69,194.61 L374.36,194.16 L375.04,193.72 L375.73,193.29 L376.42,192.87 L377.12,192.45 L377.82,192.05 L378.53,191.65 L379.24,191.26 L379.96,190.88 L380.68,190.51 L381.41,190.15 L382.14,189.79 L382.88,189.44 L383.62,189.11 L384.37,188.77 L385.12,188.45 L385.87,188.14 L386.63,187.83 L387.39,187.53 L388.15,187.23 L388.92,186.95 L389.69,186.67 L390.46,186.40 L391.24,186.14 L392.02,185.88 L392.80,185.63 L393.58,185.39 L394.37,185.15 L395.16,184.92 L395.95,184.70 L396.74,184.48 L397.54,184.27 L398.34,184.06 L399.13,183.87 L399.93,183.67 L400.73,183.49 L401.54,183.31 L402.34,183.13 L403.14,182.97 L403.95,182.80 L404.75,182.65 L405.56,182.50 L406.36,182.35 L407.17,182.21 L407.98,182.07 L408.78,181.94 L409.59,181.82 L410.39,181.70 L411.20,181.58 L412.00,181.47 L412.80,181.36 L413.60,181.26 L414.41,181.17 L415.21,181.07 L416.00,180.98 L416.80,180.90 L429.70,205.00 L457.00,205.00 " class="pw"/>
<line x1="320.5" y1="182.6" x2="320.5" y2="203.4" class="th"/>
<polygon points="320.50,181.60 322.30,185.20 318.70,185.20" fill="#000"/>
<polygon points="320.50,204.40 318.70,200.80 322.30,200.80" fill="#000"/>
<text x="252.1" y="187.6" font-size="6.8" class="lb" textLength="10.2" lengthAdjust="spacingAndGlyphs">IL4</text>
<text x="297.9" y="202.2" font-size="8.5" class="bi" textLength="16.1" lengthAdjust="spacingAndGlyphs">&#916;IL4</text>
<text x="459.3" y="188.8" font-size="12" class="lig" textLength="8.7" lengthAdjust="spacingAndGlyphs">I4</text>
<line x1="362.3" y1="205.2" x2="376" y2="205.2" class="th"/>
<polygon points="376.00,205.20 372.60,206.60 372.60,203.80" fill="#000"/>
<text x="383.7" y="208.0" font-size="9.5" class="bi" textLength="5.6" lengthAdjust="spacingAndGlyphs">-I</text>
<path d="M269.60,245.00 L269.83,244.28 L270.06,243.56 L270.30,242.81 L270.55,242.06 L270.81,241.30 L271.07,240.53 L271.35,239.75 L271.63,238.96 L271.92,238.17 L272.22,237.37 L272.53,236.58 L272.85,235.78 L273.18,234.98 L273.52,234.18 L273.88,233.39 L274.24,232.59 L274.61,231.81 L275.00,231.03 L275.40,230.25 L275.81,229.49 L276.23,228.73 L276.67,227.99 L277.12,227.26 L277.58,226.54 L278.06,225.84 L278.55,225.16 L279.06,224.49 L279.58,223.84 L280.11,223.21 L280.67,222.61 L281.23,222.02 L281.82,221.46 L282.42,220.94 L283.04,220.47 L283.69,220.05 L284.36,219.70 L285.05,219.42 L285.78,219.23 L286.53,219.13 L287.32,219.13 L288.14,219.25 L289.00,219.50 L296.20,245.00 " class="pw"/>
<path d="M323.6,245.2 V259.5 H363.7 V245.2" class="pw"/>
<text x="251.8" y="236.8" font-size="6.8" class="lb" textLength="10.5" lengthAdjust="spacingAndGlyphs">IC1</text>
<line x1="271.4" y1="251.5" x2="295.5" y2="251.5" class="th"/>
<polygon points="270.40,251.50 273.80,250.00 273.80,253.00" fill="#000"/>
<polygon points="296.50,251.50 293.10,253.00 293.10,250.00" fill="#000"/>
<text x="271" y="265.2" font-size="9.5" class="b" textLength="27.0" lengthAdjust="spacingAndGlyphs">(<tspan font-style='italic'>D</tspan>-2<tspan font-style='italic'>m</tspan>)</text>
<line x1="297.5" y1="270" x2="292.7" y2="296" class="th"/>
<polygon points="292.70,296.00 291.94,292.40 294.69,292.91" fill="#000"/>
<line x1="310.2" y1="272.5" x2="323.5" y2="296" class="th"/>
<polygon points="323.50,296.00 320.61,293.73 323.04,292.35" fill="#000"/>
<line x1="323.5" y1="277.4" x2="356.8" y2="295.8" class="th"/>
<polygon points="356.80,295.80 353.15,295.38 354.50,292.93" fill="#000"/>
<line x1="345" y1="278.4" x2="403.5" y2="295.8" class="th"/>
<polygon points="403.50,295.80 399.84,296.17 400.64,293.49" fill="#000"/>
<line x1="363.8" y1="275" x2="450.8" y2="295.8" class="th"/>
<polygon points="450.80,295.80 447.17,296.37 447.82,293.65" fill="#000"/>
<rect x="268.7" y="296.3" width="206.3" height="15.699999999999989" class="bx"/>
<line x1="309.4" y1="296.3" x2="309.4" y2="312" class="bx"/>
<line x1="350" y1="296.3" x2="350" y2="312" class="bx"/>
<line x1="393.5" y1="296.3" x2="393.5" y2="312" class="bx"/>
<line x1="434.6" y1="296.3" x2="434.6" y2="312" class="bx"/>
<text x="271" y="306.8" font-size="7.2" class="md" textLength="34.1" lengthAdjust="spacingAndGlyphs">Mode 1 (t0)</text>
<text x="312.4" y="306.8" font-size="7.2" class="md" textLength="33.8" lengthAdjust="spacingAndGlyphs">Mode 2 (t1)</text>
<text x="353" y="306.8" font-size="7.2" class="md" textLength="33.5" lengthAdjust="spacingAndGlyphs">Mode 3 (t2)</text>
<text x="396.8" y="306.8" font-size="7.2" class="md" textLength="32.9" lengthAdjust="spacingAndGlyphs">Mode 4 (t3)</text>
<text x="437.8" y="306.8" font-size="7.2" class="md" textLength="32.7" lengthAdjust="spacingAndGlyphs">Mode 5 (t4)</text>
<text x="344" y="324.8" font-size="11" class="b" textLength="12.8" lengthAdjust="spacingAndGlyphs">(b)</text>
<line x1="495.7" y1="16" x2="495.7" y2="307.3" class="ax"/>
<polygon points="495.70,10.30 498.30,17.60 493.10,17.60" fill="#000"/>
<line x1="495.7" y1="47.0" x2="667.6" y2="47.0" class="ax"/>
<polygon points="672.60,47.00 664.60,49.60 664.60,44.40" fill="#000"/>
<line x1="495.7" y1="96.3" x2="667.6" y2="96.3" class="ax"/>
<polygon points="672.60,96.30 664.60,98.90 664.60,93.70" fill="#000"/>
<line x1="495.7" y1="144.5" x2="667.6" y2="144.5" class="ax"/>
<polygon points="672.60,144.50 664.60,147.10 664.60,141.90" fill="#000"/>
<line x1="495.7" y1="201.5" x2="667.6" y2="201.5" class="ax"/>
<polygon points="672.60,201.50 664.60,204.10 664.60,198.90" fill="#000"/>
<line x1="495.7" y1="243.0" x2="667.6" y2="243.0" class="ax"/>
<polygon points="672.60,243.00 664.60,245.60 664.60,240.40" fill="#000"/>
<line x1="559.5" y1="48" x2="559.5" y2="275" class="vd"/>
<line x1="584.5" y1="48" x2="584.5" y2="275" class="vdl"/>
<line x1="521.5" y1="136" x2="521.5" y2="270" class="vd"/>
<line x1="540.5" y1="145" x2="540.5" y2="270" class="vd"/>
<path d="M495.7,22.4 H559.5 V47" class="pw"/>
<path d="M584.3,47 V21.2 H648.5 V47" class="pw"/>
<text x="474.2" y="36.4" font-size="8.2" class="t" textLength="18.6" lengthAdjust="spacingAndGlyphs">Vgs1,2</text>
<text x="508.2" y="37" font-size="7.5" class="t" textLength="5.0" lengthAdjust="spacingAndGlyphs">D</text>
<text x="600.5" y="37" font-size="7.5" class="t" textLength="4.9" lengthAdjust="spacingAndGlyphs">D</text>
<line x1="497.7" y1="51.5" x2="582.7" y2="51.5" class="th"/>
<polygon points="496.70,51.50 500.10,50.00 500.10,53.00" fill="#000"/>
<polygon points="583.70,51.50 580.30,53.00 580.30,50.00" fill="#000"/>
<text x="543" y="58.6" font-size="7.5" class="t" textLength="6.6" lengthAdjust="spacingAndGlyphs">Ts</text>
<text x="665.4" y="58.6" font-size="7.6" class="tg" textLength="1.8" lengthAdjust="spacingAndGlyphs">t</text>
<line x1="495.7" y1="71.5" x2="673.5" y2="71.5" class="bd"/>
<line x1="495.7" y1="79.5" x2="559.4" y2="79.5" class="gd"/>
<path d="M496.1,79.5 L559.4,63.7 L583.3,79.5 L647.4,63.7 L670.8,79.5" class="pw"/>
<line x1="559.5" y1="65.2" x2="559.5" y2="78.2" class="th"/>
<polygon points="559.50,64.20 561.30,67.80 557.70,67.80" fill="#000"/>
<polygon points="559.50,79.20 557.70,75.60 561.30,75.60" fill="#000"/>
<text x="481.8" y="73.9" font-size="6.8" class="lb" textLength="9.4" lengthAdjust="spacingAndGlyphs">IL1</text>
<text x="536" y="77.2" font-size="8.5" class="bi" textLength="14.3" lengthAdjust="spacingAndGlyphs">&#916;IL1</text>
<text x="675.4" y="75.2" font-size="12" class="lig" textLength="7.8" lengthAdjust="spacingAndGlyphs">I1</text>
<line x1="497.7" y1="99.5" x2="558.1" y2="99.5" class="th"/>
<polygon points="496.70,99.50 500.10,98.00 500.10,101.00" fill="#000"/>
<polygon points="559.10,99.50 555.70,101.00 555.70,98.00" fill="#000"/>
<line x1="560.6999999999999" y1="99.5" x2="582.7" y2="99.5" class="th"/>
<polygon points="559.70,99.50 563.10,98.00 563.10,101.00" fill="#000"/>
<polygon points="583.70,99.50 580.30,101.00 580.30,98.00" fill="#000"/>
<text x="531.2" y="111.8" font-size="9.5" class="li" textLength="6.0" lengthAdjust="spacingAndGlyphs">D</text>
<text x="565.5" y="111.9" font-size="9.5" class="t" textLength="13.5" lengthAdjust="spacingAndGlyphs">1-<tspan font-style='italic'>D</tspan></text>
<line x1="495.7" y1="128.5" x2="673.5" y2="128.5" class="bd"/>
<path d="M495.80,143.60 L496.07,142.93 L496.33,142.24 L496.58,141.53 L496.83,140.79 L497.08,140.04 L497.33,139.27 L497.58,138.49 L497.83,137.70 L498.08,136.89 L498.34,136.08 L498.61,135.27 L498.88,134.46 L499.17,133.64 L499.46,132.83 L499.77,132.02 L500.09,131.22 L500.43,130.43 L500.78,129.65 L501.16,128.89 L501.55,128.14 L501.97,127.41 L502.41,126.71 L502.87,126.02 L503.36,125.37 L503.88,124.74 L504.42,124.14 L505.00,123.58 L505.60,123.05 L506.22,122.56 L506.87,122.11 L507.54,121.70 L508.22,121.34 L508.93,121.04 L509.64,120.78 L510.37,120.57 L511.12,120.43 L511.86,120.34 L512.62,120.31 L513.38,120.33 L514.13,120.41 L514.89,120.54 L515.64,120.71 L516.38,120.94 L517.11,121.20 L517.84,121.51 L518.55,121.86 L519.27,122.25 L519.97,122.66 L520.67,123.11 L521.35,123.59 L522.03,124.09 L522.71,124.62 L523.37,125.16 L524.03,125.73 L524.67,126.31 L525.31,126.91 L525.94,127.51 L526.56,128.12 L527.17,128.74 L527.77,129.36 L528.37,129.99 L528.95,130.61 L529.52,131.22 L530.09,131.83 L530.64,132.43 L531.18,133.02 L531.72,133.60 L532.25,134.18 L532.77,134.75 L533.28,135.32 L533.79,135.90 L534.29,136.47 L534.79,137.05 L535.29,137.64 L535.78,138.23 L536.27,138.83 L536.76,139.44 L537.25,140.07 L537.73,140.71 L538.22,141.37 L538.71,142.04 L539.21,142.74 L539.70,143.46 L540.20,144.20 " class="pw"/>
<path d="M584.30,144.40 L584.50,143.71 L584.71,143.00 L584.91,142.27 L585.13,141.52 L585.35,140.76 L585.59,139.98 L585.83,139.19 L586.08,138.39 L586.34,137.59 L586.61,136.78 L586.90,135.96 L587.21,135.15 L587.52,134.35 L587.86,133.55 L588.21,132.75 L588.58,131.97 L588.98,131.20 L589.39,130.45 L589.82,129.71 L590.28,129.00 L590.76,128.30 L591.26,127.64 L591.79,127.00 L592.34,126.39 L592.92,125.81 L593.51,125.26 L594.13,124.75 L594.76,124.27 L595.41,123.83 L596.08,123.43 L596.76,123.08 L597.45,122.76 L598.15,122.50 L598.87,122.28 L599.59,122.11 L600.33,121.99 L601.07,121.92 L601.81,121.91 L602.56,121.94 L603.31,122.03 L604.07,122.16 L604.83,122.34 L605.58,122.55 L606.34,122.81 L607.10,123.10 L607.85,123.43 L608.59,123.78 L609.34,124.17 L610.07,124.59 L610.80,125.03 L611.52,125.49 L612.23,125.98 L612.93,126.48 L613.62,127.00 L614.30,127.54 L614.96,128.08 L615.61,128.64 L616.24,129.20 L616.86,129.77 L617.47,130.35 L618.06,130.93 L618.64,131.52 L619.21,132.12 L619.77,132.73 L620.31,133.34 L620.85,133.96 L621.38,134.58 L621.89,135.20 L622.40,135.83 L622.90,136.47 L623.40,137.11 L623.88,137.75 L624.36,138.40 L624.84,139.05 L625.31,139.70 L625.77,140.35 L626.24,141.01 L626.69,141.66 L627.15,142.32 L627.60,142.98 L628.05,143.64 L628.50,144.30 " class="pw"/>
<line x1="508.5" y1="122.2" x2="508.5" y2="142.6" class="th"/>
<polygon points="508.50,121.20 510.30,124.80 506.70,124.80" fill="#000"/>
<polygon points="508.50,143.60 506.70,140.00 510.30,140.00" fill="#000"/>
<text x="482" y="117.9" font-size="6.8" class="lb" textLength="9.6" lengthAdjust="spacingAndGlyphs">IL2</text>
<text x="481.7" y="127.6" font-size="6.8" class="lb" textLength="9.9" lengthAdjust="spacingAndGlyphs">ID1</text>
<text x="513.8" y="137" font-size="8.5" class="bi" textLength="14.6" lengthAdjust="spacingAndGlyphs">&#916;IL2</text>
<text x="675.4" y="127.5" font-size="12" class="lig" textLength="8.6" lengthAdjust="spacingAndGlyphs">I2</text>
<line x1="497.7" y1="149.5" x2="520.5" y2="149.5" class="th"/>
<polygon points="496.70,149.50 500.10,148.00 500.10,151.00" fill="#000"/>
<polygon points="521.50,149.50 518.10,151.00 518.10,148.00" fill="#000"/>
<line x1="541.6999999999999" y1="150.5" x2="558.1" y2="150.5" class="th"/>
<polygon points="540.70,150.50 544.10,149.00 544.10,152.00" fill="#000"/>
<polygon points="559.10,150.50 555.70,152.00 555.70,149.00" fill="#000"/>
<text x="498.8" y="157.6" font-size="8.5" class="b" textLength="21.9" lengthAdjust="spacingAndGlyphs">(<tspan font-style='italic'>D</tspan>-2<tspan font-style='italic'>m</tspan>)</text>
<text x="544.6" y="159.2" font-size="9.5" class="bi" textLength="6.0" lengthAdjust="spacingAndGlyphs">m</text>
<line x1="495.7" y1="177.5" x2="673.5" y2="177.5" class="bd"/>
<line x1="495.7" y1="185.5" x2="552.1" y2="185.5" class="gd"/>
<path d="M495.80,184.20 L496.40,183.61 L497.01,183.04 L497.63,182.48 L498.26,181.93 L498.89,181.39 L499.53,180.87 L500.17,180.36 L500.82,179.86 L501.48,179.38 L502.15,178.90 L502.82,178.44 L503.50,177.99 L504.18,177.56 L504.87,177.13 L505.56,176.72 L506.26,176.31 L506.97,175.92 L507.68,175.54 L508.40,175.17 L509.12,174.80 L509.84,174.45 L510.57,174.11 L511.31,173.78 L512.05,173.46 L512.80,173.15 L513.54,172.85 L514.30,172.56 L515.06,172.27 L515.82,172.00 L516.58,171.73 L517.35,171.48 L518.12,171.23 L518.90,170.99 L519.68,170.75 L520.46,170.53 L521.25,170.31 L522.04,170.11 L522.83,169.90 L523.63,169.71 L524.42,169.52 L525.22,169.34 L526.02,169.17 L526.83,169.00 L527.63,168.84 L528.44,168.69 L529.25,168.54 L530.06,168.40 L530.88,168.26 L531.69,168.13 L532.51,168.00 L533.33,167.88 L534.15,167.77 L534.97,167.66 L535.79,167.55 L536.61,167.45 L537.43,167.35 L538.25,167.26 L539.08,167.17 L539.90,167.09 L540.72,167.01 L541.54,166.93 L542.37,166.86 L543.19,166.79 L544.01,166.72 L544.83,166.66 L545.66,166.59 L546.48,166.54 L547.30,166.48 L548.11,166.42 L548.93,166.37 L549.75,166.32 L550.56,166.27 L551.38,166.23 L552.19,166.18 L553.00,166.13 L553.81,166.09 L554.61,166.05 L555.42,166.01 L556.22,165.96 L557.02,165.92 L557.81,165.88 L558.61,165.84 L559.40,165.80 L583.30,185.10 L583.95,184.58 L584.61,184.07 L585.27,183.57 L585.94,183.08 L586.61,182.61 L587.29,182.14 L587.97,181.68 L588.66,181.23 L589.35,180.79 L590.04,180.36 L590.75,179.94 L591.45,179.53 L592.16,179.12 L592.88,178.73 L593.60,178.35 L594.32,177.97 L595.05,177.60 L595.78,177.24 L596.51,176.89 L597.25,176.55 L597.99,176.22 L598.74,175.89 L599.49,175.58 L600.24,175.27 L601.00,174.96 L601.76,174.67 L602.52,174.38 L603.29,174.11 L604.06,173.83 L604.83,173.57 L605.60,173.31 L606.38,173.06 L607.16,172.82 L607.95,172.58 L608.73,172.36 L609.52,172.13 L610.31,171.92 L611.10,171.71 L611.90,171.50 L612.69,171.31 L613.49,171.12 L614.29,170.93 L615.09,170.75 L615.90,170.58 L616.70,170.41 L617.51,170.25 L618.32,170.09 L619.13,169.94 L619.94,169.80 L620.75,169.66 L621.56,169.52 L622.38,169.39 L623.19,169.26 L624.01,169.14 L624.82,169.03 L625.64,168.91 L626.46,168.81 L627.28,168.70 L628.09,168.60 L628.91,168.51 L629.73,168.42 L630.55,168.33 L631.37,168.25 L632.19,168.17 L633.01,168.09 L633.82,168.02 L634.64,167.95 L635.46,167.88 L636.28,167.82 L637.09,167.76 L637.91,167.70 L638.72,167.65 L639.54,167.60 L640.35,167.55 L641.16,167.50 L641.97,167.46 L642.78,167.41 L643.59,167.37 L644.40,167.34 L645.20,167.30 L669.50,185.40 " class="pw"/>
<line x1="552.5" y1="168.2" x2="552.5" y2="183.8" class="th"/>
<polygon points="552.50,167.20 554.30,170.80 550.70,170.80" fill="#000"/>
<polygon points="552.50,184.80 550.70,181.20 554.30,181.20" fill="#000"/>
<text x="481.8" y="182.8" font-size="6.8" class="lb" textLength="10.1" lengthAdjust="spacingAndGlyphs">IL3</text>
<text x="513.8" y="181.4" font-size="8.5" class="bi" textLength="14.6" lengthAdjust="spacingAndGlyphs">&#916;IL3</text>
<text x="675.4" y="178.4" font-size="12" class="lig" textLength="8.6" lengthAdjust="spacingAndGlyphs">I3</text>
<line x1="583.6" y1="185.2" x2="602.4" y2="185.2" class="th"/>
<polygon points="602.40,185.20 599.00,186.60 599.00,183.80" fill="#000"/>
<text x="603.7" y="189.3" font-size="9" class="bi" textLength="7.0" lengthAdjust="spacingAndGlyphs">+I</text>
<line x1="495.7" y1="236.5" x2="673.5" y2="236.5" class="bd"/>
<line x1="508" y1="259.5" x2="557.7" y2="259.5" class="gd"/>
<path d="M495.80,259.10 L496.33,258.45 L496.87,257.81 L497.42,257.18 L497.97,256.56 L498.53,255.94 L499.09,255.34 L499.67,254.75 L500.25,254.17 L500.83,253.59 L501.43,253.03 L502.02,252.47 L502.63,251.92 L503.24,251.38 L503.86,250.85 L504.48,250.33 L505.11,249.82 L505.75,249.31 L506.39,248.82 L507.03,248.33 L507.68,247.85 L508.34,247.37 L509.00,246.91 L509.67,246.45 L510.34,246.00 L511.01,245.56 L511.69,245.12 L512.38,244.69 L513.07,244.27 L513.76,243.85 L514.46,243.44 L515.17,243.04 L515.87,242.64 L516.58,242.25 L517.30,241.87 L518.02,241.49 L518.74,241.12 L519.47,240.75 L520.20,240.39 L520.93,240.03 L521.66,239.68 L522.40,239.34 L523.15,239.00 L523.89,238.67 L524.64,238.34 L525.39,238.01 L526.14,237.69 L526.90,237.38 L527.66,237.07 L528.42,236.76 L529.18,236.46 L529.94,236.16 L530.71,235.86 L531.48,235.57 L532.25,235.28 L533.02,235.00 L533.79,234.72 L534.57,234.44 L535.35,234.17 L536.12,233.90 L536.90,233.63 L537.68,233.37 L538.46,233.10 L539.24,232.85 L540.03,232.59 L540.81,232.33 L541.59,232.08 L542.37,231.83 L543.16,231.58 L543.94,231.33 L544.73,231.09 L545.51,230.85 L546.30,230.60 L547.08,230.36 L547.86,230.12 L548.65,229.89 L549.43,229.65 L550.21,229.41 L550.99,229.18 L551.77,228.94 L552.55,228.71 L553.33,228.47 L554.10,228.24 L554.88,228.01 L555.65,227.77 L556.43,227.54 L557.20,227.30 L557.97,227.07 L558.73,226.84 L559.50,226.60 L585.00,259.10 L585.52,258.44 L586.05,257.80 L586.59,257.16 L587.14,256.54 L587.69,255.92 L588.25,255.32 L588.82,254.72 L589.39,254.13 L589.97,253.56 L590.56,252.99 L591.16,252.43 L591.76,251.88 L592.36,251.34 L592.98,250.81 L593.59,250.28 L594.22,249.77 L594.85,249.26 L595.49,248.76 L596.13,248.27 L596.78,247.79 L597.43,247.32 L598.09,246.85 L598.75,246.39 L599.42,245.94 L600.09,245.50 L600.77,245.06 L601.46,244.63 L602.14,244.21 L602.84,243.79 L603.53,243.38 L604.23,242.98 L604.94,242.59 L605.65,242.20 L606.36,241.81 L607.08,241.44 L607.80,241.07 L608.53,240.70 L609.25,240.34 L609.99,239.99 L610.72,239.64 L611.46,239.30 L612.20,238.96 L612.95,238.62 L613.69,238.30 L614.44,237.97 L615.19,237.66 L615.95,237.34 L616.71,237.03 L617.47,236.73 L618.23,236.43 L618.99,236.13 L619.76,235.84 L620.53,235.55 L621.30,235.26 L622.07,234.98 L622.84,234.70 L623.62,234.43 L624.39,234.16 L625.17,233.89 L625.95,233.62 L626.73,233.36 L627.51,233.10 L628.29,232.84 L629.07,232.58 L629.85,232.33 L630.63,232.08 L631.42,231.83 L632.20,231.58 L632.98,231.34 L633.77,231.09 L634.55,230.85 L635.33,230.61 L636.12,230.37 L636.90,230.13 L637.68,229.89 L638.46,229.66 L639.24,229.42 L640.02,229.19 L640.80,228.95 L641.57,228.72 L642.35,228.48 L643.12,228.25 L643.90,228.01 L644.67,227.78 L645.44,227.54 L646.21,227.31 L646.97,227.07 L647.74,226.84 L648.50,226.60 L673.30,259.20 " class="pw"/>
<line x1="557.5" y1="229.2" x2="557.5" y2="258" class="th"/>
<polygon points="557.50,228.20 559.30,231.80 555.70,231.80" fill="#000"/>
<polygon points="557.50,259.00 555.70,255.40 559.30,255.40" fill="#000"/>
<text x="481.8" y="236.8" font-size="6.8" class="lb" textLength="10.2" lengthAdjust="spacingAndGlyphs">IL4</text>
<text x="523.8" y="254" font-size="8.5" class="bi" textLength="14.2" lengthAdjust="spacingAndGlyphs">&#916;IL4</text>
<text x="675.4" y="237.9" font-size="12" class="lig" textLength="8.6" lengthAdjust="spacingAndGlyphs">I4</text>
<line x1="584.5" y1="259.2" x2="597" y2="259.2" class="th"/>
<polygon points="597.00,259.20 593.60,260.60 593.60,257.80" fill="#000"/>
<text x="603.8" y="262.4" font-size="11" class="bi" textLength="5.8" lengthAdjust="spacingAndGlyphs">-I</text>
<line x1="521.9" y1="269.7" x2="512.4" y2="291.4" class="th"/>
<polygon points="512.40,291.40 512.48,287.72 515.05,288.85" fill="#000"/>
<line x1="540.8" y1="268.4" x2="553.5" y2="291.4" class="th"/>
<polygon points="553.50,291.40 550.63,289.10 553.08,287.75" fill="#000"/>
<line x1="559.7" y1="268.4" x2="599" y2="291.4" class="th"/>
<polygon points="599.00,291.40 595.36,290.89 596.77,288.47" fill="#000"/>
<line x1="584.9" y1="272.5" x2="635.7" y2="291.4" class="th"/>
<polygon points="635.70,291.40 632.03,291.53 633.00,288.90" fill="#000"/>
<rect x="497.6" y="291.6" width="169.79999999999995" height="17.69999999999999" class="bx"/>
<line x1="539.5" y1="291.6" x2="539.5" y2="309.3" class="bx"/>
<line x1="582.2" y1="291.6" x2="582.2" y2="309.3" class="bx"/>
<line x1="624.9" y1="291.6" x2="624.9" y2="309.3" class="bx"/>
<text x="500.3" y="302.8" font-size="7.2" class="md" textLength="31.6" lengthAdjust="spacingAndGlyphs">Mode 1 (t0)</text>
<text x="542.7" y="302.8" font-size="7.2" class="md" textLength="31.3" lengthAdjust="spacingAndGlyphs">Mode 2 (t1)</text>
<text x="584.9" y="302.8" font-size="7.2" class="md" textLength="33.8" lengthAdjust="spacingAndGlyphs">Mode  3 (t2)</text>
<text x="627.6" y="302.8" font-size="7.2" class="md" textLength="31.7" lengthAdjust="spacingAndGlyphs">Mode 4 (t3)</text>
<text x="571.4" y="322.8" font-size="11" class="b" textLength="11.8" lengthAdjust="spacingAndGlyphs">(c)</text>
</svg>
</body></html>
